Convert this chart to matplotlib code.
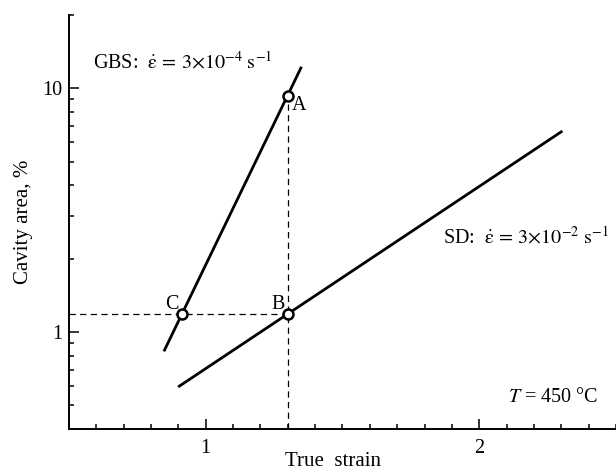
import matplotlib
matplotlib.use("Agg")
import matplotlib.pyplot as plt
from matplotlib.ticker import FixedLocator, NullFormatter, FixedFormatter
import numpy as np

plt.rcParams['font.family'] = ['Liberation Serif', 'DejaVu Serif']
plt.rcParams['mathtext.fontset'] = 'stix'

# Data
gbs_strain = [0.847, 1.35]
gbs_area = [0.833, 12.26]
sd_strain = [0.899, 2.304]
sd_area = [0.595, 6.68]
pt_labels = ['A', 'B', 'C']
pt_strain = [1.30, 1.30, 0.913]
pt_area = [9.33, 1.185, 1.185]

x_major = [1, 2]
x_minor = [round(0.5 + 0.1 * i, 1) for i in range(21)]
y_major = [1, 10]
y_major_labels = ['1', '10']
y_minor = [0.4, 0.5, 0.6, 0.7, 0.8, 0.9, 2, 3, 4, 5, 6, 7, 8, 9, 20]

fig = plt.figure(figsize=(6.16, 4.71), dpi=100)
ax = fig.add_axes([0.112, 0.0892, 0.888, 0.8790])
ax.set_yscale('log')
ax.set_xlim(0.5, 2.5)
ax.set_ylim(0.4, 20)

# dashed guide lines
ax.plot([pt_strain[0], pt_strain[0]], [0.4, pt_area[0]], color='black',
        lw=0.9, ls=(0, (5, 3.5)), zorder=1)
ax.plot([0.5, pt_strain[1]], [pt_area[1], pt_area[1]], color='black',
        lw=0.9, ls=(0, (5, 3.5)), zorder=1)

ax.plot(gbs_strain, gbs_area, color='black', lw=2.0, solid_capstyle='butt', zorder=2)
ax.plot(sd_strain, sd_area, color='black', lw=2.0, solid_capstyle='butt', zorder=2)
ax.plot(pt_strain, pt_area, ls='none', marker='o', ms=7.2, mfc='white',
        mec='black', mew=1.8, zorder=3)

# point labels
offsets = {'A': (1.315, 8.15), 'B': (1.242, 1.246), 'C': (0.853, 1.246)}
for lab in pt_labels:
    x, y = offsets[lab]
    ax.text(x, y, lab, fontsize=14.5, ha='left', va='baseline')

ax.text(0.044, 0.872, r"GBS:  $\dot{\mathrm{\varepsilon}}\,=\,3{\times}10^{-4}\ \mathrm{s}^{-1}$",
        transform=ax.transAxes, fontsize=14.5, ha='left', va='baseline')
ax.text(0.684, 0.449, r"SD:  $\dot{\mathrm{\varepsilon}}\,=\,3{\times}10^{-2}\ \mathrm{s}^{-1}$",
        transform=ax.transAxes, fontsize=14.5, ha='left', va='baseline')
ax.text(0.967, 0.065, r"$T$ = 450 °C",
        transform=ax.transAxes, fontsize=14.5, ha='right', va='baseline')

ax.xaxis.set_major_locator(FixedLocator(x_major))
ax.xaxis.set_minor_locator(FixedLocator(x_minor))
ax.xaxis.set_minor_formatter(NullFormatter())
ax.set_xticklabels(['1', '2'])
ax.yaxis.set_major_locator(FixedLocator(y_major))
ax.yaxis.set_major_formatter(FixedFormatter(y_major_labels))
ax.yaxis.set_minor_locator(FixedLocator(y_minor))
ax.yaxis.set_minor_formatter(NullFormatter())

ax.tick_params(which='major', direction='in', length=7.5, width=1.1, labelsize=14.5, pad=5)
ax.tick_params(which='minor', direction='in', length=3.8, width=1.1)
ax.tick_params(axis='x', which='major', pad=7)

for s in ['top', 'right']:
    ax.spines[s].set_visible(False)
for s in ['left', 'bottom']:
    ax.spines[s].set_linewidth(1.4)

ax.set_xlabel('True  strain', fontsize=15)
ax.set_ylabel('Cavity area, %', fontsize=15)
ax.xaxis.set_label_coords(0.483, -0.055)
ax.yaxis.set_label_coords(-0.066, 0.5)

fig.savefig('out.png', dpi=100)
